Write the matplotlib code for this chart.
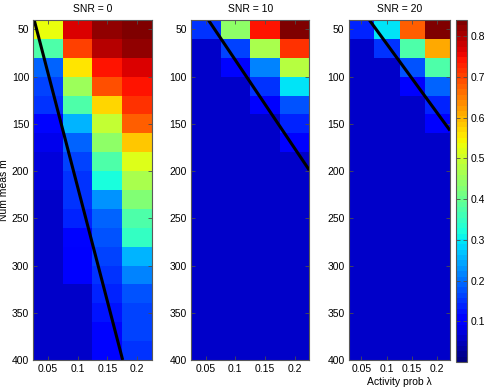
import matplotlib
matplotlib.use('Agg')
import matplotlib.pyplot as plt
import numpy as np

plt.rcParams['font.family'] = ['Liberation Sans', 'DejaVu Sans']
plt.rcParams['font.size'] = 7.5

# Data
lam = [0.05, 0.1, 0.15, 0.2]                 # activity prob (columns)
m_rows = list(range(50, 400, 20))            # num measurements (rows, 18)
snr_titles = ['SNR = 0', 'SNR = 10', 'SNR = 20']

bg = 0.059  # flat background level

# SNR = 0, one list per lambda column (top row m=50 first)
snr0_c1 = [0.525, 0.37, 0.193, 0.16, 0.155, 0.109, 0.084, 0.071, 0.067] + [bg] * 9
snr0_c2 = [0.773, 0.701, 0.563, 0.454, 0.37, 0.252, 0.189, 0.16, 0.151,
           0.147, 0.139, 0.118, 0.101, 0.092] + [bg] * 4
snr0_c3 = [0.82, 0.788, 0.735, 0.685, 0.571, 0.487, 0.441, 0.37, 0.318,
           0.235, 0.189, 0.176, 0.16, 0.151, 0.139, 0.126, 0.118, 0.113]
snr0_c4 = [0.84, 0.823, 0.773, 0.735, 0.71, 0.672, 0.588, 0.512, 0.466,
           0.42, 0.37, 0.345, 0.252, 0.223, 0.181, 0.168, 0.16, 0.155]

# SNR = 10
snr10_c1 = [0.151] + [bg] * 17
snr10_c2 = [0.441, 0.16, 0.118] + [bg] * 15
snr10_c3 = [0.735, 0.466, 0.214, 0.155, 0.097] + [bg] * 13
snr10_c4 = [0.84, 0.71, 0.483, 0.294, 0.176, 0.139, 0.101] + [bg] * 11

# SNR = 20
snr20_c1 = [0.134] + [bg] * 17
snr20_c2 = [0.294, 0.155] + [bg] * 16
snr20_c3 = [0.672, 0.37, 0.176, 0.101] + [bg] * 14
snr20_c4 = [0.84, 0.605, 0.37, 0.185, 0.139, 0.101] + [bg] * 12

panels = [
    [snr0_c1, snr0_c2, snr0_c3, snr0_c4],
    [snr10_c1, snr10_c2, snr10_c3, snr10_c4],
    [snr20_c1, snr20_c2, snr20_c3, snr20_c4],
]

# black boundary lines: (lambda, m) endpoints per panel
line_lam = [[0.0265, 0.1756], [0.0544, 0.225], [0.0657, 0.225]]
line_m = [[40, 400], [40, 199], [40, 157]]

W, H = 485, 389
fig = plt.figure(figsize=(W / 100, H / 100), dpi=100)

def px(l, t, r, b):
    return [l / W, 1 - b / H, (r - l) / W, (b - t) / H]

rects = [px(33.3, 20, 152, 360), px(191, 20, 309.3, 360), px(348.7, 20, 450, 360)]
cmap = plt.get_cmap('jet', 64)
vmin, vmax = 0.0, 0.84

for i, cols in enumerate(panels):
    ax = fig.add_axes(rects[i])
    grid = np.array(cols).T
    im = ax.imshow(grid, cmap=cmap, vmin=vmin, vmax=vmax, aspect='auto',
                   interpolation='nearest', extent=[0.025, 0.225, 400, 40])
    ax.plot(line_lam[i], line_m[i], color='black', lw=2.2, solid_capstyle='butt')
    ax.set_xlim(0.025, 0.225)
    ax.set_ylim(400, 40)
    ax.set_xticks(lam)
    ax.set_xticklabels(['0.05', '0.1', '0.15', '0.2'])
    ax.set_yticks(range(50, 401, 50))
    ax.tick_params(direction='in', top=True, right=True, length=3, width=0.6,
                   color='0.3', pad=3)
    for s in ax.spines.values():
        s.set_color('0.35')
        s.set_linewidth(0.8)
    ax.set_title(snr_titles[i], fontsize=7.5, pad=6)
    if i == 0:
        ax.set_ylabel('Num meas m', labelpad=2)
    if i == 2:
        ax.set_xlabel('Activity prob λ', labelpad=2)

cax = fig.add_axes(px(455.7, 20, 466.7, 362))
cb = fig.colorbar(im, cax=cax)
cb.set_ticks([0.1, 0.2, 0.3, 0.4, 0.5, 0.6, 0.7, 0.8])
cb.ax.tick_params(direction='in', left=True, right=True, length=3, width=0.6,
                  color='0.3', pad=3)
cb.outline.set_edgecolor('0.35')
cb.outline.set_linewidth(0.8)

fig.savefig('out.png', dpi=100)
